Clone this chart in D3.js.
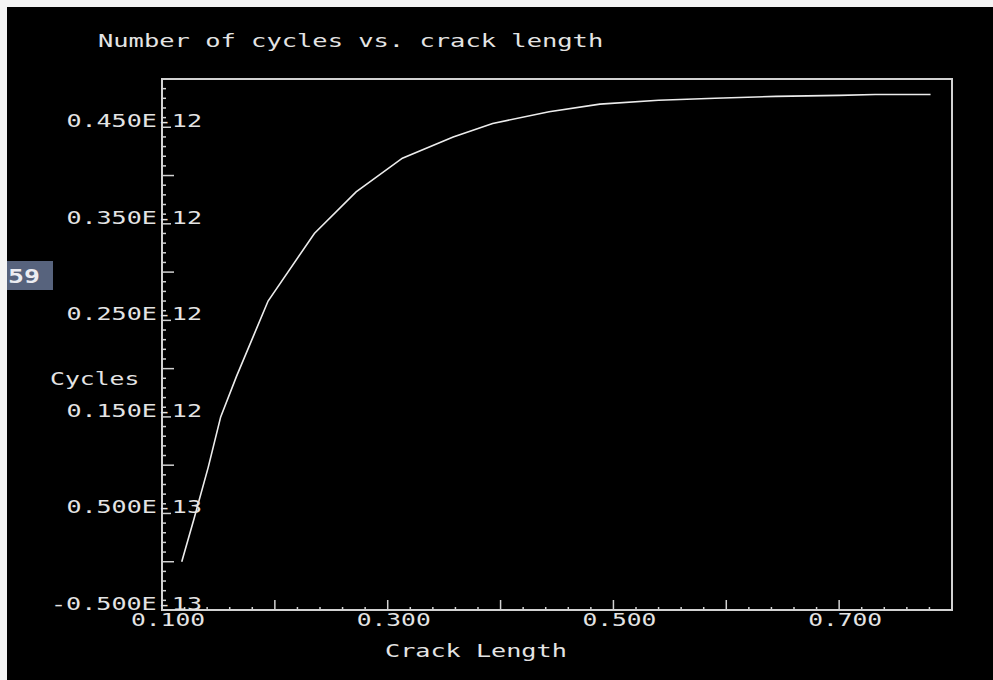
<!DOCTYPE html>
<html>
<head>
<meta charset="utf-8">
<script src="https://d3js.org/d3.v7.min.js"></script>
<style>
  html, body { margin: 0; padding: 0; background: #000; }
  svg text { font-family: "DejaVu Sans Mono", monospace; font-size: 17.5px; fill: #e4e4e4; }
</style>
</head>
<body>
<div id="chart"></div>
<script>
// crack length (x) and number of cycles (y, in units of 1E12)
var crackLength = [0.1175, 0.128, 0.141, 0.152, 0.166, 0.194, 0.235, 0.272, 0.313, 0.358,
                   0.393, 0.443, 0.488, 0.540, 0.590, 0.644, 0.700, 0.732, 0.781];
var cycles = [0.000, 0.043, 0.098, 0.150, 0.192, 0.270, 0.340, 0.383, 0.418, 0.440,
              0.454, 0.466, 0.474, 0.478, 0.480, 0.482, 0.483, 0.484, 0.484];

var xTickValues = [0.1, 0.3, 0.5, 0.7];
var xTickLabels = ["0.100", "0.300", "0.500", "0.700"];
var yTickValues = [-0.05, 0.05, 0.15, 0.25, 0.35, 0.45];
var yTickLabels = ["-0.500E-13", "0.500E-13", "0.150E-12", "0.250E-12", "0.350E-12", "0.450E-12"];

var W = 993, H = 680;
var frame = {left: 162, top: 79, right: 952, bottom: 610};
var CH = 15.4; // character cell width of the old terminal font

var svg = d3.select("#chart").append("svg")
    .attr("width", W).attr("height", H);

svg.append("rect").attr("width", W).attr("height", H).attr("fill", "#000");
// light border strips from the screenshot
svg.append("rect").attr("x", 0).attr("y", 0).attr("width", W).attr("height", 7).attr("fill", "#f4f4f4");
svg.append("rect").attr("x", 0).attr("y", 0).attr("width", 7).attr("height", H).attr("fill", "#f4f4f4");

var x = d3.scaleLinear().domain([0.1, 0.8]).range([frame.left, frame.right]);
var y = d3.scaleLinear().domain([-0.05, 0.5]).range([frame.bottom, frame.top]);

var axisColor = "#d2d2d2";

// stretch monospace glyphs to fill the wide character cells
function cells(sel) {
    sel.attr("textLength", function() { return this.textContent.length * CH - 3; })
       .attr("lengthAdjust", "spacingAndGlyphs");
}

// minor / major ticks on the x axis
var xTicks = d3.range(0, 36).map(function(i) { return +(0.1 + i * 0.02).toFixed(2); });
svg.append("g").selectAll("line").data(xTicks).enter().append("line")
    .attr("x1", function(d) { return x(d); }).attr("x2", function(d) { return x(d); })
    .attr("y1", frame.bottom)
    .attr("y2", function(d) { return Math.abs(d * 10 - Math.round(d * 10)) < 1e-6 ? frame.bottom - 10 : frame.bottom - 3; })
    .attr("stroke", axisColor).attr("stroke-width", 1.5);

// minor / major ticks on the y axis
var yTicks = d3.range(0, 56).map(function(i) { return +(-0.05 + i * 0.01).toFixed(2); });
svg.append("g").selectAll("line").data(yTicks).enter().append("line")
    .attr("y1", function(d) { return y(d); }).attr("y2", function(d) { return y(d); })
    .attr("x1", frame.left)
    .attr("x2", function(d) {
        var k = Math.round(d * 100);
        if (k % 10 === 0) return frame.left + 12;
        if (k % 5 === 0) return frame.left + 9;
        return frame.left + 4;
    })
    .attr("stroke", axisColor).attr("stroke-width", 1.5);

// frame
svg.append("path")
    .attr("d", "M" + frame.left + "," + frame.bottom + "V" + frame.top + "H" + frame.right + "V" + frame.bottom + "Z")
    .attr("fill", "none").attr("stroke", axisColor).attr("stroke-width", 2);

// curve
var line = d3.line()
    .x(function(d, i) { return x(crackLength[i]); })
    .y(function(d) { return y(d); });
svg.append("path").datum(cycles)
    .attr("d", line)
    .attr("fill", "none").attr("stroke", "#ececec").attr("stroke-width", 1.6);

// tick labels
svg.append("g").selectAll("text").data(xTickValues).enter().append("text")
    .attr("x", function(d) { return x(d) - 31; }).attr("y", 626)
    .text(function(d, i) { return xTickLabels[i]; })
    .call(cells);

svg.append("g").selectAll("text").data(yTickValues).enter().append("text")
    .attr("x", function(d, i) { return 205 - yTickLabels[i].length * CH; })
    .attr("y", function(d) { return y(d); })
    .text(function(d, i) { return yTickLabels[i]; })
    .call(cells);

// titles
svg.append("text").attr("x", 98).attr("y", 47).text("Number of cycles vs. crack length").call(cells);
svg.append("text").attr("x", 50).attr("y", 385).text("Cycles").call(cells);
svg.append("text").attr("x", 385).attr("y", 657).text("Crack Length").call(cells);

// the stray "59" badge at the left edge
svg.append("rect").attr("x", 7).attr("y", 261).attr("width", 46).attr("height", 29).attr("fill", "#57637d");
svg.append("text").attr("x", 8).attr("y", 283)
    .style("font-weight", "bold").style("font-size", "19px")
    .attr("textLength", 32).attr("lengthAdjust", "spacingAndGlyphs")
    .style("fill", "#ecedf2").text("59");
</script>
</body>
</html>
